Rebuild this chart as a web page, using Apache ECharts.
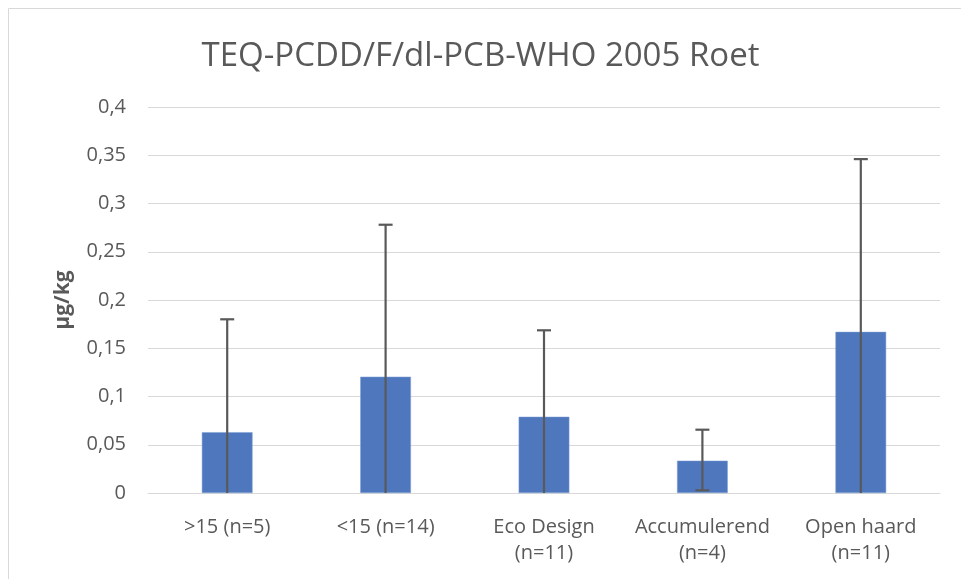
<!DOCTYPE html>
<html>
<head>
<meta charset="utf-8">
<script src="https://cdn.jsdelivr.net/npm/echarts@6/dist/echarts.min.js"></script>
<style>
html,body{margin:0;padding:0;background:#fff;}
#chart{width:961px;height:579px;}
</style>
</head>
<body>
<div id="chart"></div>
<script>
var titleText = "TEQ-PCDD/F/dl-PCB-WHO 2005 Roet";
var yAxisName = "µg/kg";
var categories = [">15 (n=5)", "<15 (n=14)", "Eco Design\n(n=11)", "Accumulerend\n(n=4)", "Open haard\n(n=11)"];
var values = [0.063, 0.1205, 0.079, 0.0335, 0.167];
var errUpper = [0.180, 0.278, 0.1686, 0.0656, 0.346];
var errLower = [0, 0, 0, 0.0028, 0];
var yMin = 0, yMax = 0.4, yStep = 0.05;

var errData = categories.map(function (c, i) { return [i, errLower[i], errUpper[i]]; });

var chart = echarts.init(document.getElementById('chart'), null, {renderer: 'canvas'});
var font = "'Open Sans', 'Noto Sans', sans-serif";
chart.setOption({
  animation: false,
  backgroundColor: '#ffffff',
  textStyle: {fontFamily: font},
  title: {
    text: titleText,
    left: 'center',
    top: 35,
    textStyle: {fontFamily: font, fontSize: 33, fontWeight: 'normal', color: '#595959'}
  },
  graphic: [{
    type: 'rect',
    shape: {x: 8.5, y: 8.5, width: 1000, height: 1000},
    style: {fill: 'none', stroke: '#d9d9d9', lineWidth: 1},
    silent: true
  }],
  grid: {left: 148, right: 21, top: 107, bottom: 86},
  xAxis: {
    type: 'category',
    data: categories,
    axisLine: {lineStyle: {color: '#d9d9d9', width: 1}},
    axisTick: {show: false},
    axisLabel: {color: '#595959', fontSize: 20, margin: 21, lineHeight: 26, interval: 0}
  },
  yAxis: {
    type: 'value',
    min: yMin, max: yMax, interval: yStep,
    name: yAxisName,
    nameLocation: 'middle',
    nameGap: 74,
    nameTextStyle: {color: '#595959', fontSize: 21, fontWeight: 'bold'},
    axisLine: {show: false},
    axisTick: {show: false},
    splitLine: {lineStyle: {color: '#d9d9d9', width: 1}},
    axisLabel: {
      color: '#595959', fontSize: 20, margin: 22,
      formatter: function (v) { return String(Math.round(v * 100) / 100).replace('.', ','); }
    }
  },
  series: [{
    type: 'bar',
    data: values,
    barWidth: '32%',
    itemStyle: {color: '#4f77bd', borderColor: '#7f9fd4', borderWidth: 0.5},
    z: 2
  }, {
    type: 'custom',
    data: errData,
    z: 3,
    renderItem: function (params, api) {
      var x = api.value(0);
      var lo = api.coord([x, api.value(1)]);
      var hi = api.coord([x, api.value(2)]);
      var cap = 7;
      var style = {stroke: '#595959', lineWidth: 2.2};
      var children = [
        {type: 'line', shape: {x1: hi[0], y1: hi[1], x2: lo[0], y2: lo[1]}, style: style},
        {type: 'line', shape: {x1: hi[0] - cap, y1: hi[1], x2: hi[0] + cap, y2: hi[1]}, style: style}
      ];
      if (api.value(1) > 0) {
        children.push({type: 'line', shape: {x1: lo[0] - cap, y1: lo[1], x2: lo[0] + cap, y2: lo[1]}, style: style});
      }
      return {type: 'group', children: children};
    }
  }]
});
</script>
</body>
</html>
